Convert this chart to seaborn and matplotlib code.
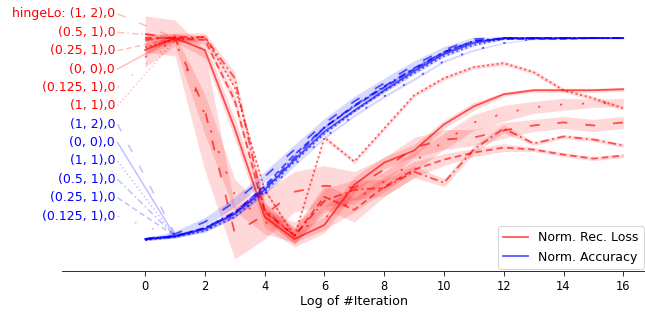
import numpy as np
import pandas as pd
import matplotlib
matplotlib.use("Agg")
import matplotlib.pyplot as plt
import seaborn as sns

# x axis: log2 of iteration count
iters = list(range(17))
configs = ["(1, 2)", "(0.5, 1)", "(0.25, 1)", "(0, 0)", "(0.125, 1)", "(1, 1)"]

# normalized reconstruction loss (mean over runs)
loss_12 = [1.02, 1.0, 0.64, 0.03, 0.12, 0.235, 0.265, 0.255, 0.345, 0.455, 0.495, 0.505, 0.54, 0.565, 0.58, 0.565, 0.58]
loss_051 = [0.99, 1.005, 1.005, 0.80, 0.145, 0.015, 0.19, 0.245, 0.255, 0.335, 0.28, 0.445, 0.55, 0.475, 0.51, 0.495, 0.465]
loss_0251 = [1.0, 1.0, 0.99, 0.69, 0.135, 0.015, 0.21, 0.145, 0.26, 0.345, 0.395, 0.43, 0.455, 0.445, 0.42, 0.40, 0.415]
loss_00 = [0.94, 1.0, 0.94, 0.55, 0.11, 0.0, 0.07, 0.27, 0.38, 0.44, 0.57, 0.66, 0.72, 0.74, 0.74, 0.74, 0.745]
loss_01251 = [0.905, 0.99, 0.62, 0.22, 0.085, 0.035, 0.105, 0.195, 0.285, 0.385, 0.485, 0.58, 0.625, 0.655, 0.67, 0.675, 0.68]
loss_11 = [0.955, 0.99, 1.005, 0.755, 0.245, 0.015, 0.505, 0.385, 0.55, 0.715, 0.80, 0.855, 0.875, 0.83, 0.74, 0.70, 0.65]

# half width of the spread between runs
loss_12_sd = [0.09, 0.09, 0.30, 0.13, 0.12, 0.10, 0.10, 0.08, 0.06, 0.05, 0.05, 0.04, 0.04, 0.03, 0.03, 0.03, 0.03]
loss_051_sd = [0.02, 0.02, 0.02, 0.03, 0.04, 0.04, 0.06, 0.05, 0.04, 0.03, 0.02, 0.02, 0.02, 0.01, 0.01, 0.01, 0.01]
loss_0251_sd = [0.02, 0.02, 0.02, 0.03, 0.04, 0.04, 0.06, 0.06, 0.05, 0.04, 0.03, 0.02, 0.02, 0.01, 0.01, 0.01, 0.01]
loss_00_sd = [0.03, 0.02, 0.04, 0.05, 0.05, 0.04, 0.04, 0.04, 0.03, 0.03, 0.02, 0.02, 0.01, 0.01, 0.01, 0.01, 0.01]
loss_01251_sd = [0.05, 0.03, 0.10, 0.08, 0.06, 0.05, 0.06, 0.06, 0.05, 0.05, 0.04, 0.04, 0.04, 0.03, 0.03, 0.02, 0.02]
loss_11_sd = [0.01] * 17

# normalized accuracy (mean over runs)
acc_12 = [0.0, 0.025, 0.085, 0.185, 0.31, 0.445, 0.575, 0.685, 0.775, 0.865, 0.94, 0.995, 1.0, 1.0, 1.0, 1.0, 1.0]
acc_051 = [0.0, 0.015, 0.055, 0.135, 0.255, 0.405, 0.555, 0.665, 0.76, 0.85, 0.93, 0.985, 1.0, 1.0, 1.0, 1.0, 1.0]
acc_0251 = [0.0, 0.015, 0.055, 0.13, 0.265, 0.42, 0.555, 0.66, 0.755, 0.845, 0.93, 0.985, 0.995, 0.995, 0.995, 1.0, 1.0]
acc_00 = [0.0, 0.015, 0.05, 0.125, 0.245, 0.395, 0.535, 0.64, 0.74, 0.835, 0.92, 0.975, 1.0, 1.0, 1.0, 1.0, 1.0]
acc_01251 = [-0.005, 0.01, 0.045, 0.115, 0.225, 0.37, 0.505, 0.615, 0.71, 0.795, 0.885, 0.94, 0.975, 0.995, 1.0, 1.0, 1.0]
acc_11 = [-0.005, 0.01, 0.04, 0.11, 0.235, 0.385, 0.525, 0.635, 0.735, 0.825, 0.91, 0.965, 0.995, 1.0, 1.0, 1.0, 1.0]

acc_12_sd = [0.004, 0.015, 0.022, 0.025, 0.025, 0.025, 0.025, 0.025, 0.025, 0.022, 0.018, 0.01, 0.004, 0.004, 0.004, 0.004, 0.004]
acc_other_sd = [0.003, 0.005, 0.006, 0.007, 0.007, 0.007, 0.007, 0.007, 0.007, 0.007, 0.006, 0.005, 0.003, 0.003, 0.003, 0.003, 0.003]

loss = dict(zip(configs, [loss_12, loss_051, loss_0251, loss_00, loss_01251, loss_11]))
loss_sd = dict(zip(configs, [loss_12_sd, loss_051_sd, loss_0251_sd, loss_00_sd, loss_01251_sd, loss_11_sd]))
acc = dict(zip(configs, [acc_12, acc_051, acc_0251, acc_00, acc_01251, acc_11]))
acc_sd = dict(zip(configs, [acc_12_sd] + [acc_other_sd] * 5))

# label order on the left side
loss_order = ["(1, 2)", "(0.5, 1)", "(0.25, 1)", "(0, 0)", "(0.125, 1)", "(1, 1)"]
acc_order = ["(1, 2)", "(0, 0)", "(1, 1)", "(0.5, 1)", "(0.25, 1)", "(0.125, 1)"]

# line style per config
dash_map = {
    "(1, 2)": (5.5, 10),
    "(0.5, 1)": (4.5, 2, 1, 2),
    "(0.25, 1)": (3.7, 2.2),
    "(0, 0)": "",
    "(0.125, 1)": (1.2, 11),
    "(1, 1)": (1, 1.65),
}

# long table, three rows per point (low, mean, high) so seaborn draws the band
rows = []
for metric, means, sds in [("loss", loss, loss_sd), ("acc", acc, acc_sd)]:
    for cfg in configs:
        for i, x in enumerate(iters):
            m, s = means[cfg][i], sds[cfg][i]
            for v in (m - s, m, m + s):
                rows.append({"metric": metric, "config": cfg, "iter": x, "value": v})
df = pd.DataFrame(rows)

W, H = 645, 315
fig = plt.figure(figsize=(W / 72, H / 72), dpi=72)
ax = fig.add_axes([62 / W, (H - 271) / H, 1 - 62 / W + 0.002, 269 / H])

for metric, color in [("loss", "red"), ("acc", "blue")]:
    sns.lineplot(data=df[df.metric == metric], x="iter", y="value",
                 style="config", style_order=configs, dashes=dash_map,
                 color=color, alpha=0.65, lw=1.8, estimator="mean",
                 errorbar=("pi", 100), err_kws={"alpha": 0.15, "linewidth": 0},
                 legend=False, ax=ax)

# text labels with a faint line to the start of each curve
label_y = np.linspace(1.12, 0.114, 12)
labels = [("loss", c, "red") for c in loss_order] + [("acc", c, "blue") for c in acc_order]
for k, (metric, cfg, color) in enumerate(labels):
    txt = cfg + ",0"
    if k == 0:
        txt = "hingeLo: " + txt
    ax.text(-1.0, label_y[k], txt, color=color, ha="right", va="center", fontsize=12.5)
    y1 = loss[cfg][1] if metric == "loss" else acc[cfg][1]
    ls = "-" if dash_map[cfg] == "" else (0, dash_map[cfg])
    ax.plot([-0.92, 1], [label_y[k], y1], color=color, alpha=0.25, lw=1.5, linestyle=ls)

ax.plot([], [], color="red", alpha=0.65, lw=1.8, label="Norm. Rec. Loss")
ax.plot([], [], color="blue", alpha=0.65, lw=1.8, label="Norm. Accuracy")
ax.legend(loc="lower right", fontsize=12.5, borderaxespad=0.2)

ax.set_xlim(-2.78, 16.77)
ax.set_ylim(-0.159, 1.179)
ax.set_xticks(range(0, 17, 2))
ax.tick_params(axis="x", labelsize=11.5, length=4.5, pad=4)
ax.set_yticks([])
ax.set_ylabel("")
ax.set_xlabel("Log of #Iteration", fontsize=12.7, labelpad=3)
for side in ["top", "right", "left"]:
    ax.spines[side].set_visible(False)

fig.savefig("out.png", dpi=72)
